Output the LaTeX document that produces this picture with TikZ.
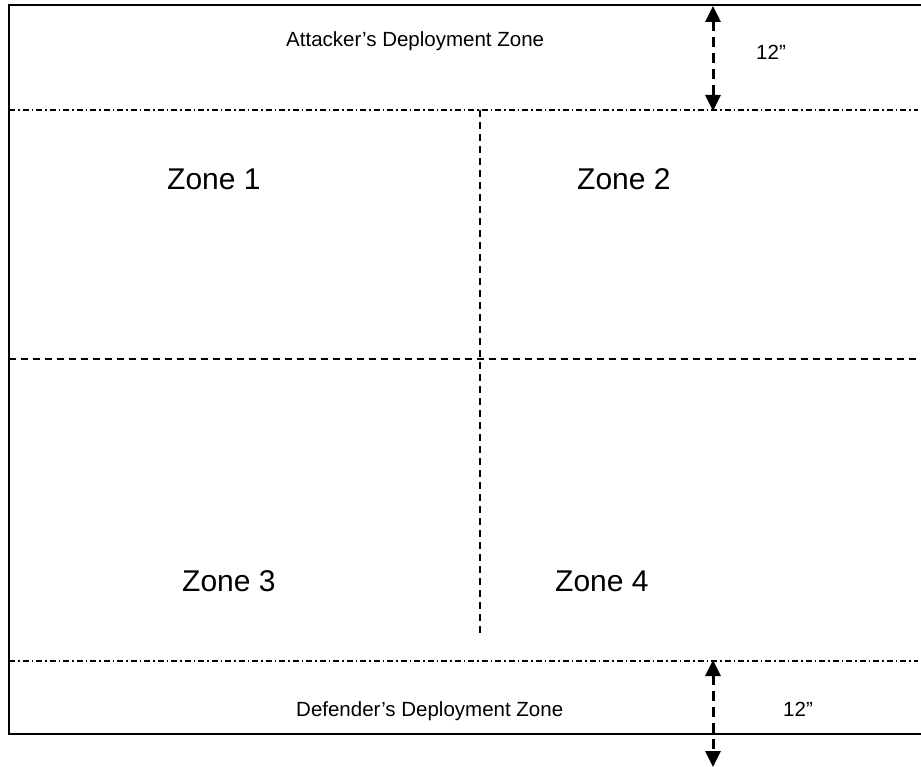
\documentclass[tikz,border=0pt]{standalone}
\usepackage{fontspec}
\setmainfont{Liberation Sans}
\usetikzlibrary{arrows.meta}
\begin{document}
\begin{tikzpicture}[x=1pt,y=-1pt,
  border/.style={line width=1.8pt,line cap=rect},
  zoneline/.style={line width=1.5pt,dash pattern=on 6pt off 3pt on 1.5pt off 3pt},
  splitline/.style={line width=2pt,dash pattern=on 7pt off 5pt},
  measure/.style={line width=3pt,dash pattern=on 10pt off 6pt,
    {Triangle[length=16pt,width=15pt]}-{Triangle[length=16pt,width=15pt]}},
  big/.style={font=\fontsize{30}{36}\selectfont,inner sep=0pt,anchor=base west},
  small/.style={font=\fontsize{20.5}{24}\selectfont,inner sep=0pt,anchor=base west}]
  \useasboundingbox (0,0) rectangle (921,767);

  % table edges (the right edge lies beyond the frame)
  \coordinate (tl) at (9,5);
  \coordinate (tr) at (921,5);
  \coordinate (bl) at (9,734);
  \coordinate (br) at (921,734);
  \draw[border] (tr) -- (tl) -- (bl) -- (br);

  % deployment zone boundaries
  \coordinate (al) at (9,110);
  \coordinate (ar) at (918,110);
  \coordinate (dl) at (9,661);
  \coordinate (dr) at (918,661);
  \draw[zoneline] (al) -- (ar);
  \draw[zoneline] (dl) -- (dr);

  % quarter split of the no man's land
  \coordinate (ml) at (9,359);
  \coordinate (mr) at (921,359);
  \coordinate (vt) at (480,110);
  \coordinate (vb) at (480,636);
  \draw[splitline] (ml) -- (mr);
  \draw[splitline] (vt) -- (vb);

  % 12" depth markers
  \coordinate (at) at (713,6);
  \coordinate (ab) at (713,111);
  \coordinate (dt) at (713,660);
  \coordinate (db) at (713,767);
  \draw[measure] (at) -- (ab);
  \draw[measure] (dt) -- (db);

  % labels
  \node[small] (att) at (286,47) {Attacker’s Deployment Zone};
  \node[small] (attd) at (756,60) {12”};
  \node[small] (def) at (296,716) {Defender’s Deployment Zone};
  \node[small] (defd) at (783,716) {12”};
  \node[big] (z1) at (167,190) {Zone 1};
  \node[big] (z2) at (577,190) {Zone 2};
  \node[big] (z3) at (182,591) {Zone 3};
  \node[big] (z4) at (555,591) {Zone 4};
\end{tikzpicture}
\end{document}
